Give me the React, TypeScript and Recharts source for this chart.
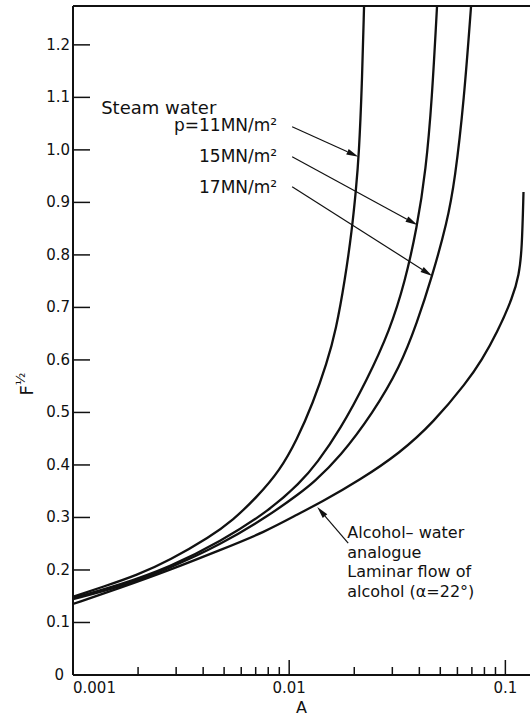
import { LineChart, Line, XAxis, YAxis, ReferenceLine, ReferenceDot } from "recharts";

// curves: A (log axis) and F^1/2
const a11 = [0.001, 0.001377, 0.001977, 0.00281, 0.0043, 0.0055, 0.0071, 0.00907, 0.01086, 0.01288, 0.01495, 0.01646, 0.01811, 0.01952, 0.02037, 0.02102, 0.02171, 0.0222];
const f11 = [0.149, 0.168, 0.19, 0.219, 0.263, 0.295, 0.339, 0.39, 0.448, 0.518, 0.594, 0.657, 0.752, 0.848, 0.924, 0.99, 1.124, 1.274];

const a15 = [0.001, 0.00165, 0.00281, 0.00479, 0.00815, 0.01122, 0.01345, 0.01718, 0.02291, 0.02925, 0.0343, 0.039, 0.0429, 0.04575, 0.0483];
const f15 = [0.1466, 0.1714, 0.2057, 0.2533, 0.3142, 0.3656, 0.4037, 0.4666, 0.5618, 0.657, 0.7484, 0.8513, 0.9617, 1.095, 1.274];

const a17 = [0.001, 0.00165, 0.00281, 0.00479, 0.00815, 0.01122, 0.01288, 0.01718, 0.02441, 0.03255, 0.039, 0.04575, 0.0537, 0.05846, 0.0644, 0.0694];
const f17 = [0.1447, 0.1676, 0.2038, 0.2476, 0.3047, 0.3466, 0.3656, 0.4152, 0.499, 0.5866, 0.6703, 0.758, 0.8608, 0.9427, 1.095, 1.274];

const aAlc = [0.001, 0.00165, 0.00281, 0.00479, 0.00773, 0.01122, 0.01388, 0.02126, 0.03255, 0.04624, 0.06645, 0.0779, 0.0914, 0.1084, 0.1156, 0.1193, 0.1213];
const fAlc = [0.1352, 0.1657, 0.2, 0.238, 0.2723, 0.3085, 0.3276, 0.3714, 0.4228, 0.4799, 0.558, 0.6, 0.6513, 0.72, 0.7618, 0.8094, 0.9198];

const xTicks = [
  0.001, 0.002, 0.003, 0.004, 0.005, 0.006, 0.007, 0.008, 0.009,
  0.01, 0.02, 0.03, 0.04, 0.05, 0.06, 0.07, 0.08, 0.09, 0.1,
];
const xTickLabels = [
  "0.001", "", "", "", "", "", "", "", "",
  "0.01", "", "", "", "", "", "", "", "", "0.1",
];
const yTicks = [0, 0.1, 0.2, 0.3, 0.4, 0.5, 0.6, 0.7, 0.8, 0.9, 1.0, 1.1, 1.2];
const yTickLabels = ["0", "0.1", "0.2", "0.3", "0.4", "0.5", "0.6", "0.7", "0.8", "0.9", "1.0", "1.1", "1.2"];

const xDomain = [0.001, 0.13];
const yDomain = [0, 1.274];

// arrows: [tailA, tailF, headA, headF]
const arrow11 = [0.01032, 1.044, 0.0209, 0.987];
const arrow15 = [0.01032, 0.987, 0.0392, 0.857];
const arrow17 = [0.01032, 0.93, 0.0459, 0.76];
const arrowAlc = [0.01875, 0.251, 0.01348, 0.32];

const alcoholLines = ["Alcohol\u2013 water", "analogue", "Laminar flow of", "alcohol (\u03b1=22\u00b0)"];

const zip = (a: number[], f: number[]) => a.map((v, i) => ({ a: v, f: f[i] }));

const INK = "#111";

function XTick(props: any) {
  const { x, y, index } = props;
  const label = xTickLabels[index];
  const major = label !== "";
  return (
    <g>
      <line x1={x} x2={x} y1={y} y2={y - (major ? 15 : 8)} stroke={INK} strokeWidth={1.5} />
      {major && (
        <text x={x} y={y + 18} textAnchor={index === 0 ? "start" : "middle"} fontSize={15} fill={INK}>
          {label}
        </text>
      )}
    </g>
  );
}

function YTick(props: any) {
  const { x, y, index } = props;
  return (
    <g>
      <line x1={x} x2={x + 17} y1={y} y2={y} stroke={INK} strokeWidth={1.5} />
      <text x={index === 0 ? x - 9 : x - 3} y={y + 5} textAnchor="end" fontSize={15} fill={INK}>
        {yTickLabels[index]}
      </text>
    </g>
  );
}

function Arrow(p: any) {
  const { x1, y1, x2, y2 } = p;
  const ang = Math.atan2(y2 - y1, x2 - x1);
  const c = Math.cos(ang);
  const s = Math.sin(ang);
  const len = 12;
  const w = 3;
  const bx = x2 - len * c;
  const by = y2 - len * s;
  const pts = `${x2},${y2} ${bx - w * s},${by + w * c} ${bx + w * s},${by - w * c}`;
  return (
    <g>
      <line x1={x1} y1={y1} x2={bx} y2={by} stroke={INK} strokeWidth={1.2} />
      <polygon points={pts} fill={INK} />
    </g>
  );
}

const seg = (v: number[]) => [
  { x: v[0], y: v[1] },
  { x: v[2], y: v[3] },
];

function YLabel(props: any) {
  const vb = props.viewBox;
  const cx = vb.x + 33;
  const cy = vb.y + 378;
  return (
    <text x={cx} y={cy} transform={`rotate(-90, ${cx}, ${cy})`} textAnchor="middle" fill={INK} fontSize={18}>
      F<tspan dy={-8} fontSize={13}>{"\u00bd"}</tspan>
    </text>
  );
}

export default function App() {
  return (
    <div style={{ position: "absolute", left: 0, top: 0, width: 530, height: 717, background: "#fff", fontFamily: "'DejaVu Sans', sans-serif" }}>
      <LineChart width={530} height={717} margin={{ top: 6, right: 0, bottom: 0, left: 0 }}>
        <XAxis
          dataKey="a"
          type="number"
          scale="log"
          domain={xDomain}
          ticks={xTicks}
          interval={0}
          allowDataOverflow
          height={42}
          tickSize={0}
          tickMargin={0}
          tickLine={false}
          tick={<XTick />}
          axisLine={{ stroke: INK, strokeWidth: 2 }}
          label={{ value: "A", position: "insideBottom", offset: 4, fill: INK, fontSize: 16 }}
        />
        <YAxis
          dataKey="f"
          type="number"
          domain={yDomain}
          ticks={yTicks}
          interval={0}
          allowDataOverflow
          width={73}
          tickSize={0}
          tickMargin={0}
          tickLine={false}
          tick={<YTick />}
          axisLine={{ stroke: INK, strokeWidth: 2 }}
          label={<YLabel />}
        />
        <ReferenceLine y={yDomain[1]} stroke={INK} strokeWidth={2} />

        <Line data={zip(a11, f11)} dataKey="f" type="basis" stroke={INK} strokeWidth={2.3} dot={false} isAnimationActive={false} />
        <Line data={zip(a15, f15)} dataKey="f" type="basis" stroke={INK} strokeWidth={2.3} dot={false} isAnimationActive={false} />
        <Line data={zip(a17, f17)} dataKey="f" type="basis" stroke={INK} strokeWidth={2.3} dot={false} isAnimationActive={false} />
        <Line data={zip(aAlc, fAlc)} dataKey="f" type="basis" stroke={INK} strokeWidth={2.3} dot={false} isAnimationActive={false} />

        <ReferenceLine segment={seg(arrow11)} shape={Arrow} />
        <ReferenceLine segment={seg(arrow15)} shape={Arrow} />
        <ReferenceLine segment={seg(arrow17)} shape={Arrow} />
        <ReferenceLine segment={seg(arrowAlc)} shape={Arrow} />

        <ReferenceDot
          x={0.00135}
          y={1.069}
          r={0}
          shape={(p: any) => (
            <text x={p.cx} y={p.cy} fontSize={18} fill={INK}>Steam water</text>
          )}
        />
        <ReferenceDot
          x={0.0088}
          y={1.036}
          r={0}
          shape={(p: any) => (
            <text x={p.cx} y={p.cy} textAnchor="end" fontSize={17} fill={INK}>p=11MN/m²</text>
          )}
        />
        <ReferenceDot
          x={0.0088}
          y={0.977}
          r={0}
          shape={(p: any) => (
            <text x={p.cx} y={p.cy} textAnchor="end" fontSize={17} fill={INK}>15MN/m²</text>
          )}
        />
        <ReferenceDot
          x={0.0088}
          y={0.918}
          r={0}
          shape={(p: any) => (
            <text x={p.cx} y={p.cy} textAnchor="end" fontSize={17} fill={INK}>17MN/m²</text>
          )}
        />
        <ReferenceDot
          x={0.01856}
          y={0.261}
          r={0}
          shape={(p: any) => (
            <text x={p.cx} y={p.cy} fontSize={16} fill={INK}>
              {alcoholLines.map((t, i) => (
                <tspan key={i} x={p.cx} dy={i === 0 ? 0 : 19.7}>{t}</tspan>
              ))}
            </text>
          )}
        />
      </LineChart>
    </div>
  );
}
